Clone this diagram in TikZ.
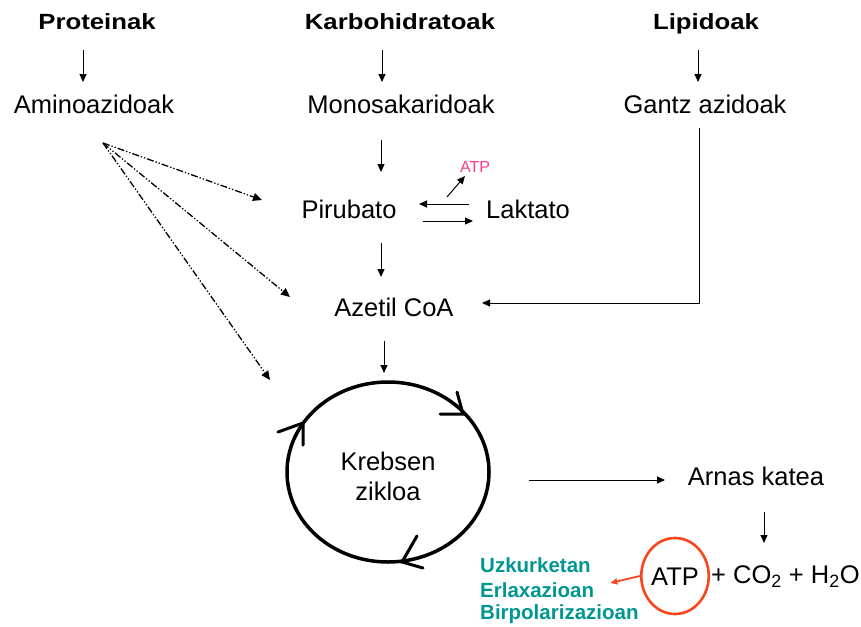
\documentclass[tikz,border=0pt]{standalone}
\usepackage{fontspec}
\setmainfont{Liberation Sans}
\usetikzlibrary{arrows.meta,calc,shapes.geometric}
\definecolor{atppink}{RGB}{250,60,140}
\definecolor{tealtxt}{RGB}{0,150,145}
\definecolor{atpred}{RGB}{250,70,30}
\newcommand{\bstretch}[1]{\scalebox{1.17}[1]{#1}}
\begin{document}
\begin{tikzpicture}[x=1pt,y=-1pt,
  txt/.style={inner sep=0pt,text height=18.5pt,text depth=0pt,font=\fontsize{25.5}{30}\selectfont},
  ttl/.style={inner sep=0pt,text height=15.5pt,text depth=0pt,font=\fontsize{22}{26}\selectfont\bfseries},
  arr/.style={line width=1pt,-{Triangle[length=8pt,width=7pt]}},
  dd/.style={line width=1.3pt,dash pattern=on 7pt off 2pt on 1.3pt off 2pt on 1.3pt off 2pt,-{Triangle[length=9pt,width=8pt]}},
  chev/.style={line width=3pt,line cap=round,line join=miter},
  grn/.style={inner sep=0pt,anchor=west,text=tealtxt,font=\fontsize{20.5}{24}\selectfont\bfseries}]
\useasboundingbox (0,0) rectangle (861,626);
% titles
\node[ttl] (prot) at (97,22) {\bstretch{Proteinak}};
\node[ttl] (karbo) at (400,22) {\bstretch{Karbohidratoak}};
\node[ttl] (lipid) at (706,22) {\bstretch{Lipidoak}};
% second row
\node[txt] (amino) at (94,104) {Aminoazidoak};
\node[txt] (mono) at (401,104) {Monosakaridoak};
\node[txt] (gantz) at (705,104) {Gantz azidoak};
% middle
\node[txt] (piru) at (349,209) {Pirubato};
\node[txt] (lakt) at (528,209) {Laktato};
\node[inner sep=0pt,text=atppink,font=\fontsize{16}{19}\selectfont] (atps) at (475,167) {ATP};
\node[txt] (azet) at (394,307) {Azetil CoA};
% cycle
\node[ellipse,draw,line width=3.5pt,minimum width=202pt,minimum height=180pt,inner sep=0pt] (cyc) at (388,472) {};
\node[inner sep=0pt,font=\fontsize{25.5}{30}\selectfont,align=center] (kreb) at (388,476) {Krebsen\\zikloa};
\node[txt] (arnas) at (756,476) {Arnas katea};
% ATP line
\node[ellipse,draw=atpred,line width=2.6pt,minimum width=66pt,minimum height=76pt,inner sep=0pt,txt] (atp) at (675,576) {ATP};
\node[txt,anchor=west] (eq) at (711,574) {+ CO\textsubscript{2} + H\textsubscript{2}O};
\node[grn] (uzk) at (480,565) {Uzkurketan};
\node[grn] (erl) at (480,590) {Erlaxazioan};
\node[grn] (birp) at (480,614) {Birpolarizazioan};
% vertical arrows
\draw[arr] ($(prot)+(-14,28)$) -- ($(amino)+(-11,-22)$);
\draw[arr] ($(karbo)+(-18,28)$) -- ($(mono)+(-19,-22)$);
\draw[arr] ($(lipid)+(-8,28)$) -- ($(gantz)+(-7,-22)$);
\draw[arr] ($(mono)+(-20,36)$) -- ($(piru)+(32,-37)$);
\draw[arr] ($(piru)+(32,34)$) -- ($(azet)+(-13,-30)$);
\draw[arr] ($(azet)+(-10,34)$) -- ($(cyc)+(-4,-99)$);
% lactate exchange
\draw[arr] ($(lakt)+(-59,-5)$) -- ($(piru)+(70,-5)$);
\draw[arr] ($(piru)+(74,12)$) -- ($(lakt)+(-55,12)$);
\draw[arr] ($(lakt)+(-81,-12)$) -- ($(atps)+(-10,9)$);
% fatty acids to acetyl CoA
\draw[arr] ($(gantz)+(-6,24)$) |- ($(azet)+(88,-4)$);
% amino acid dash-dot arrows
\draw[dd] ($(amino)+(9,39)$) -- ($(piru)+(-87,-9)$);
\draw[dd] ($(amino)+(9,39)$) -- ($(azet)+(-104,-10)$);
\draw[dd] ($(amino)+(9,39)$) -- ($(cyc)+(-118,-92)$);
% cycle chevrons
\draw[chev] ($(cyc)+(52,-58)$) -- ($(cyc)+(75,-58)$) -- ($(cyc)+(69,-80)$);
\draw[chev] ($(cyc)+(-110,-40)$) -- ($(cyc)+(-85,-49)$) -- ($(cyc)+(-85,-27)$);
\draw[chev] ($(cyc)+(29,64)$) -- ($(cyc)+(14,90)$) -- ($(cyc)+(35,96)$);
% to respiratory chain
\draw[arr] ($(cyc)+(141,8)$) -- ($(arnas)+(-91,4)$);
\draw[arr] ($(arnas)+(8,36)$) -- ($(arnas)+(8,67)$);
% ATP use
\draw[atpred,line width=1.8pt,-{Triangle[length=7pt,width=6pt]}] (atp.west) -- ($(erl.east)+(16,-7)$);
\end{tikzpicture}
\end{document}
